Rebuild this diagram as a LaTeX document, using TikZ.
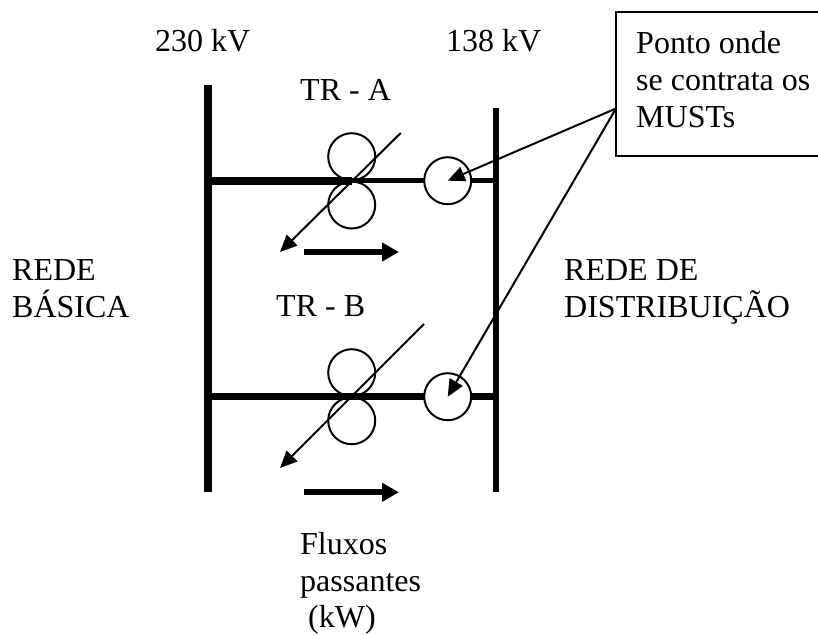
\documentclass[tikz,border=0pt]{standalone}
\usepackage{fontspec}
\setmainfont{Liberation Serif}
\usetikzlibrary{arrows.meta}
\tikzset{
  lbl/.style={anchor=base west,inner sep=0pt,align=left,font=\fontsize{32}{37}\selectfont},
  lbltight/.style={lbl,font=\fontsize{32}{36.5}\selectfont},
  busbar/.style={line width=#1,line cap=butt},
  ring/.style={circle,draw,line width=2pt,minimum size=47pt,inner sep=0pt},
  meter/.style={ring,fill=white},
  pointer/.style={line width=2pt,-{Triangle[length=17pt,width=15pt]}},
  flow/.style={line width=6pt,-{Triangle[length=17pt,width=18pt]}},
  boxedge/.style={line width=2pt,line cap=butt},
}
\begin{document}
\begin{tikzpicture}[x=1pt,y=-1pt]
\useasboundingbox (0,0) rectangle (818,634);
% text
\node[lbl] (kvl) at (155,52) {230 kV};
\node[lbl] (kvr) at (446,52) {138 kV};
\node[lbl] (tra) at (300,100) {TR - A};
\node[lbl] (trb) at (276,316) {TR - B};
\node[lbl] (rb) at (12,317) {REDE\\BÁSICA};
\node[lbl] (rd) at (564,317) {REDE DE\\DISTRIBUIÇÃO};
\node[lbltight] (fx) at (300,627.5) {Fluxos\\passantes\\\hspace*{8pt}(kW)};
% coordinates
\coordinate (lbt) at (207.5,85);
\coordinate (lbb) at (207.5,492);
\coordinate (rbt) at (496,108);
\coordinate (rbb) at (496,492);
\coordinate (la) at (207.5,180.7);
\coordinate (ra) at (496,180.7);
\coordinate (lb) at (207.5,396.7);
\coordinate (rb2) at (496,396.7);
\coordinate (ca) at (351.7,180.7);
\coordinate (cb) at (351.7,396.7);
\coordinate (da1) at (400.7,133);
\coordinate (da2) at (280,252);
\coordinate (db1) at (424,324);
\coordinate (db2) at (280,468);
\coordinate (fa1) at (304,252);
\coordinate (fa2) at (399,252);
\coordinate (fb1) at (304,492.3);
\coordinate (fb2) at (399,492.3);
% buses
\draw[busbar=8pt] (lbt) -- (lbb);
\draw[busbar=6pt] (rbt) -- (rbb);
\draw[busbar=8pt] (la) -- (ca);
\draw[busbar=4.5pt] (ca) -- (ra);
\draw[busbar=7.5pt] (lb) -- (cb);
\draw[busbar=6.5pt] (cb) -- (rb2);
% transformers
\node[ring] (a1) at (351.7,156.7) {};
\node[ring] (a2) at (351.7,205) {};
\node[ring] (b1) at (351.7,372.7) {};
\node[ring] (b2) at (351.7,420.7) {};
\draw[pointer] (da1) -- (da2);
\draw[pointer] (db1) -- (db2);
% meters
\node[meter] (ma) at (447.7,180.7) {};
\node[meter] (mb) at (447.7,396.7) {};
% flow arrows
\draw[flow] (fa1) -- (fa2);
\draw[flow] (fb1) -- (fb2);
% callout
\node[inner sep=0pt,minimum width=202pt,minimum height=144pt,anchor=north west] (box) at (616,12) {};
\draw[boxedge] (box.north east) -- (box.north west) -- (box.south west) -- (box.south east);
\node[lbl] (boxtxt) at (636,127) {Ponto onde\\se contrata os\\MUSTs};
\coordinate (tap) at (616,108.5);
\draw[pointer] (tap) -- (ma.center);
\draw[pointer] (tap) -- (mb.center);
\end{tikzpicture}
\end{document}
